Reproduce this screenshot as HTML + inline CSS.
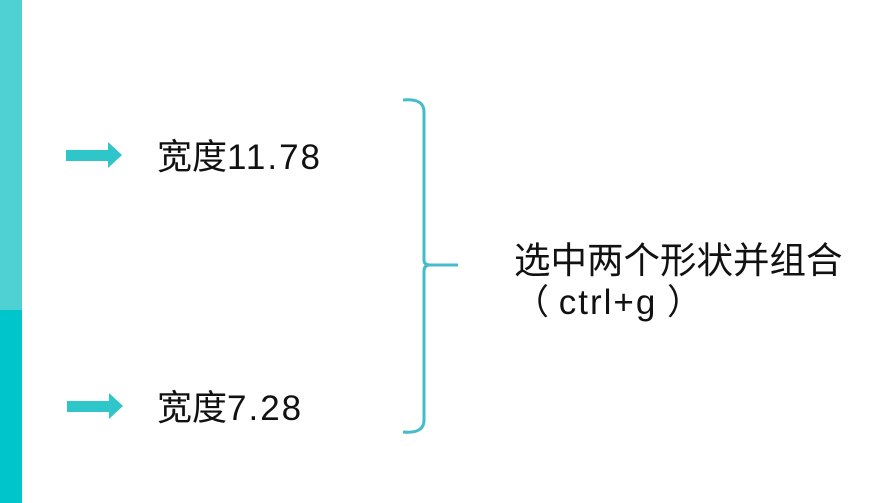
<!DOCTYPE html>
<html><head><meta charset="utf-8"><style>
body{margin:0;width:893px;height:503px;background:#fff;position:relative;overflow:hidden;font-family:"Liberation Sans","Noto Sans CJK SC",sans-serif;color:#111}
.t{position:absolute;font-size:35px;line-height:1;white-space:nowrap}
.l{letter-spacing:2px}
</style></head><body>
<div style="position:absolute;left:0;top:0;width:22px;height:310px;background:#4fd1d4"></div>
<div style="position:absolute;left:0;top:310px;width:22px;height:193px;background:#00c5ca"></div>
<svg width="893" height="503" style="position:absolute;left:0;top:0">
<polygon points="66,150 108,150 108,142 122,155 108,168 108,161 66,161" fill="#2fc6c9"/>
<polygon points="67,401 109,401 109,393 123,406 109,419 109,412 67,412" fill="#2fc6c9"/>
<path d="M403,100 Q424,98 424,112 L424,260 Q424,265 430,265 L458,265 M430,265 Q424,265 424,271 L424,420 Q424,434 403,432" fill="none" stroke="#45bccb" stroke-width="3"/>
</svg>
<div class="t" style="left:157px;top:140px">宽度<span class="l">11.78</span></div>
<div class="t" style="left:157px;top:391px">宽度<span class="l">7.28</span></div>
<div class="t" style="left:514px;top:243px;font-size:36.5px">选中两个形状并组合</div>
<div class="t" style="left:514px;top:285px">（ <span class="l">ctrl+g</span> ）</div>
</body></html>
